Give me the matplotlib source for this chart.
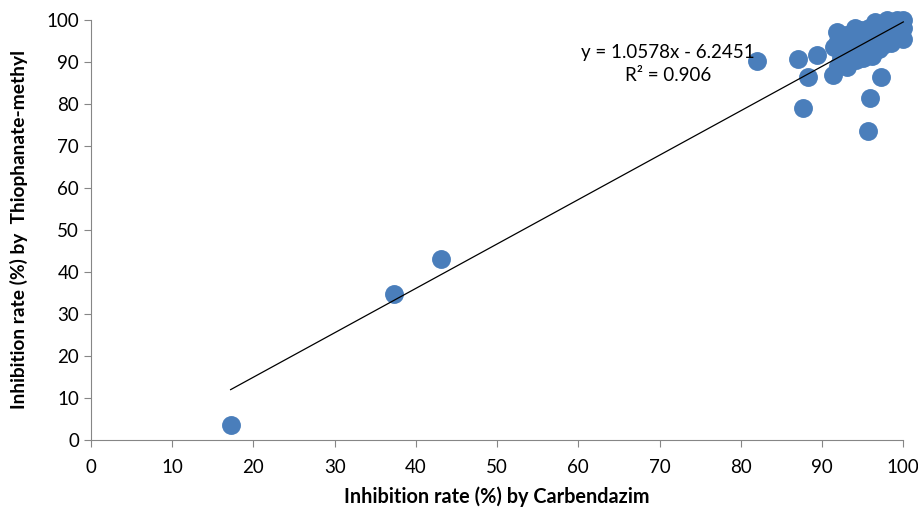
import numpy as np
import matplotlib.pyplot as plt

plt.rcParams['font.family'] = ['Lato', 'DejaVu Sans']

# inhibition rates (%)
carbendazim = [17.2, 37.3, 43.1, 82.0, 87.0, 88.3, 87.7, 89.4, 95.9, 95.6,
               97.3, 91.3, 93.1, 95.1,
               91.5, 91.8, 92.0, 92.3, 92.5, 92.8, 93.0, 93.2, 93.5, 93.8,
               94.0, 94.2, 94.5, 94.8, 95.0, 95.2, 95.5, 95.8, 96.0, 96.2,
               96.5, 96.8, 97.0, 97.2, 97.5, 97.8, 98.0, 98.2, 98.5, 98.8,
               99.0, 99.2, 99.5, 99.7, 100.0, 100.0, 100.0, 99.8, 96.8, 95.5,
               94.0, 93.0, 97.0, 98.5, 92.0, 95.0, 96.5, 98.0]
thiophanate = [3.5, 34.8, 43.0, 90.2, 90.7, 86.4, 79.0, 91.7, 81.4, 73.6,
               86.4, 86.9, 88.8, 91.2,
               93.5, 97.2, 95.0, 91.0, 93.0, 96.0, 89.5, 94.5, 92.0, 97.0,
               95.5, 90.5, 93.5, 97.5, 96.0, 92.5, 94.5, 98.0, 95.0, 91.5,
               97.0, 93.5, 98.5, 96.0, 94.0, 99.0, 97.0, 95.5, 99.5, 98.0,
               96.5, 100.0, 98.5, 97.0, 100.0, 95.5, 98.0, 99.5, 99.0, 97.5,
               98.0, 96.5, 93.0, 94.5, 89.0, 91.0, 99.5, 100.0]

slope = 1.0578
intercept = -6.2451
r2 = 0.906

fig = plt.figure(figsize=(9.18, 5.12), dpi=100)
ax = fig.add_axes([0.099, 0.141, 0.885, 0.82])

ax.scatter(carbendazim, thiophanate, s=185, color='#4A7EBB', zorder=2,
           linewidths=0, clip_on=False)

xs = np.array([min(carbendazim), max(carbendazim)])
ax.plot(xs, slope * xs + intercept, color='black', lw=0.9, zorder=3,
        clip_on=False)

ax.text(71, 92.3, 'y = %.4fx - %.4f' % (slope, -intercept), ha='center',
        va='center', fontsize=13.5)
ax.text(71, 86.8, 'R² = %.3f' % r2, ha='center', va='center', fontsize=13.5)

ax.set_xlim(0, 100)
ax.set_ylim(0, 100)
ax.set_xticks(np.arange(0, 101, 10))
ax.set_yticks(np.arange(0, 101, 10))
ax.tick_params(labelsize=13.5, color='#868686', length=5, width=0.8)
ax.tick_params(axis='x', pad=9)
for s in ['top', 'right']:
    ax.spines[s].set_visible(False)
for s in ['left', 'bottom']:
    ax.spines[s].set_color('#868686')
    ax.spines[s].set_linewidth(0.8)

ax.set_xlabel('Inhibition rate (%) by Carbendazim', fontsize=14.3,
              fontweight='bold')
ax.set_ylabel('Inhibition rate (%) by  Thiophanate-methyl', fontsize=13.8,
              fontweight='bold')
ax.xaxis.set_label_coords(0.5, -0.112)
ax.yaxis.set_label_coords(-0.078, 0.5)

fig.savefig('out.png', dpi=100)
